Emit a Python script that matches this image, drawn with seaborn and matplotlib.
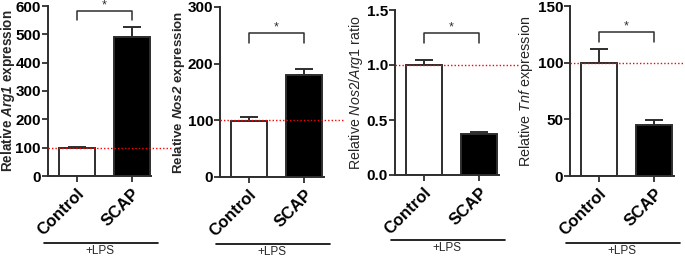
import matplotlib.pyplot as plt
import pandas as pd
import seaborn as sb
import numpy as np

# values (bar = mean, err = upper SEM)
groups = ["Control", "SCAP"]

arg1_mean = [98, 492]
arg1_err = [6, 35]

nos2_mean = [98, 180]
nos2_err = [8, 10]

ratio_mean = [1.0, 0.37]
ratio_err = [0.045, 0.02]

tnf_mean = [100, 45]
tnf_err = [12.5, 4.5]

# significance bracket (top, bottom of the legs)
arg1_sig = [582, 550]
nos2_sig = [254, 237]
ratio_sig = [1.29, 1.20]
tnf_sig = [127, 118]

ylabels = [r"Relative $\mathbf{Arg1}$ expression",
           r"Relative $\mathbf{Nos2}$ expression",
           r"Relative $\mathit{Nos2/Arg1}$ ratio",
           r"Relative $\mathit{Tnf}$ expression"]
ylabel_bold = [True, True, False, False]
ylabel_len = [163, 163, 155, 151]   # pixel length of the label in the reference
ylabel_x = [-0.30, -0.32, -0.29, -0.34]
yticks = [[0, 100, 200, 300, 400, 500, 600],
          [0, 100, 200, 300],
          [0.0, 0.5, 1.0, 1.5],
          [0, 50, 100, 150]]
ticklabels = [None, None, ["0.0", "0.5", "1.0", "1.5"], None]
reflines = [100, 100, 1.0, 100]

means = [arg1_mean, nos2_mean, ratio_mean, tnf_mean]
errs = [arg1_err, nos2_err, ratio_err, tnf_err]
sigs = [arg1_sig, nos2_sig, ratio_sig, tnf_sig]

sb.set_style("ticks")
plt.rcParams['font.family'] = ['Liberation Sans', 'DejaVu Sans']
plt.rcParams['mathtext.fontset'] = 'custom'
plt.rcParams['mathtext.bf'] = 'Liberation Sans:bold:italic'
plt.rcParams['mathtext.it'] = 'Liberation Sans:italic'
plt.rcParams['mathtext.rm'] = 'Liberation Sans'

dark = "#2e2e2e"

fig = plt.figure(figsize=(6.85, 2.59), dpi=100)

# axes positions in pixels: left, bottom(from top), height
axpos = [(47.7, 176, 170), (220, 177, 170), (395, 175, 165), (570, 176, 170)]
axw = 103.6

axes = []
for i in range(4):
    left, bot, h = axpos[i]
    ax = fig.add_axes([left / 685, (259 - bot) / 259, axw / 685, h / 259])
    axes.append(ax)

    df = pd.DataFrame({"group": groups, "value": means[i]})
    sb.barplot(data=df, x="group", y="value", hue="group",
               palette=["white", "black"], edgecolor=dark, linewidth=1.4,
               width=0.65, legend=False, ax=ax)

    ax.errorbar(np.arange(len(groups)), means[i],
                yerr=[np.zeros(len(groups)), errs[i]], fmt="none",
                ecolor=dark, elinewidth=1.4, capsize=6.5, capthick=1.4,
                zorder=1)

    ax.set_xlim(-0.52, 1.35)
    ax.set_ylim(yticks[i][0], yticks[i][-1])
    ax.set_yticks(yticks[i])
    if ticklabels[i] is not None:
        ax.set_yticklabels(ticklabels[i])

    ax.axhline(reflines[i], xmin=0, xmax=1.2, color="red", ls=(0, (1, 1.5)),
               lw=1.0, clip_on=False, zorder=3)

    # significance bracket
    top, low = sigs[i]
    ax.plot([0, 0, 1, 1], [low, top, top, low], color=dark, lw=1.1)
    ax.text(0.5, top, "*", ha="center", va="bottom", fontsize=9, color=dark)

    ax.set_xlabel("")
    ax.set_ylabel(ylabels[i], fontsize=10,
                  fontweight="bold" if ylabel_bold[i] else "normal")
    ax.yaxis.set_label_coords(ylabel_x[i], 0.5)

    for lab in ax.get_yticklabels():
        lab.set_fontweight("bold")
        lab.set_fontsize(11)
    ax.set_xticks(range(len(groups)))
    ax.set_xticklabels(groups, rotation=45, ha="right", rotation_mode="anchor",
                       fontweight="bold", fontsize=12)

    ax.tick_params(axis="both", direction="out", length=4, width=1.3,
                   colors=dark, pad=1)
    ax.tick_params(axis="x", pad=3)
    for lab in ax.get_xticklabels() + ax.get_yticklabels():
        lab.set_color("black")
    sb.despine(ax=ax)
    for s in ["left", "bottom"]:
        ax.spines[s].set_linewidth(1.4)
        ax.spines[s].set_color(dark)

    # +LPS line under the group labels
    ax.plot([-0.04, 1.06], [-0.395, -0.395], transform=ax.transAxes,
            color="black", lw=1.2, clip_on=False)
    ax.text(0.5, -0.442, "+LPS", transform=ax.transAxes, ha="center",
            va="center", fontsize=8.5)

# size the y labels so they span the same length as in the reference
fig.canvas.draw()
r = fig.canvas.get_renderer()
for ax, target in zip(axes, ylabel_len):
    lab = ax.yaxis.label
    ext = lab.get_window_extent(r)
    lab.set_fontsize(lab.get_fontsize() * target / ext.height)

plt.savefig("out.png", dpi=100)
